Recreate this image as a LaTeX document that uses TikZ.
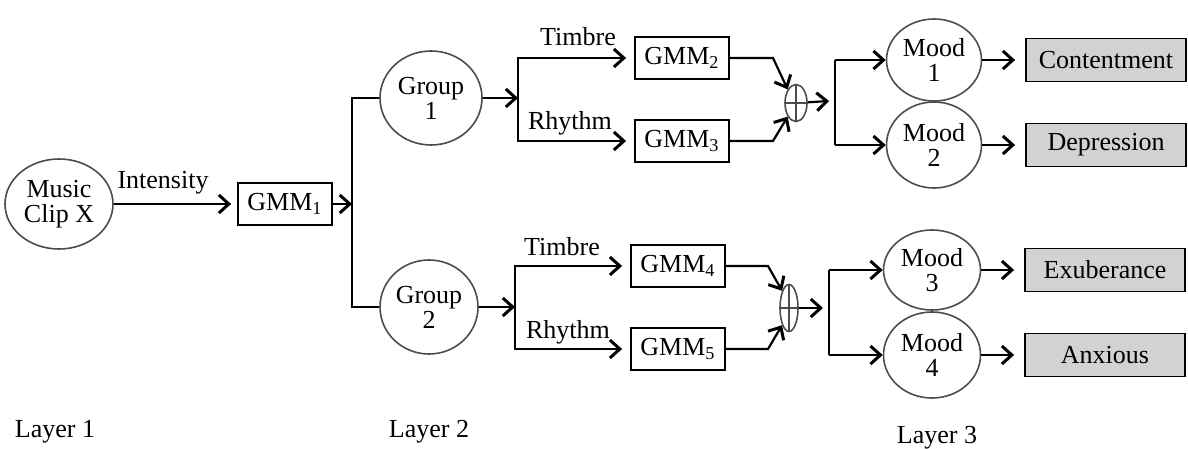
\documentclass[tikz,border=0pt]{standalone}
\usepackage{fontspec}
\setmainfont{Liberation Serif}
\usetikzlibrary{arrows.meta,shapes.geometric}

\tikzset{
  line/.style={line width=1.1pt},
  arr/.style={line,-{Straight Barb[length=5pt,width=9pt,line width=1.5pt]}},
  blob/.style={ellipse,draw=black!70,line width=0.8pt,inner sep=0pt,align=center},
  gmm/.style={draw,line width=0.9pt,inner sep=0pt,minimum height=21pt,minimum width=47pt},
  moodbox/.style={draw,fill=gray!35,line width=0.9pt,inner sep=0pt,minimum height=21.5pt,minimum width=80pt},
  sumnode/.style={ellipse,draw=black!70,line width=0.8pt,inner sep=0pt,
    path picture={\draw[line width=0.8pt] (path picture bounding box.north) -- (path picture bounding box.south)
      (path picture bounding box.west) -- (path picture bounding box.east);}}
}

\begin{document}
\begin{tikzpicture}[x=0.5pt,y=-0.5pt,font=\fontsize{13}{12.5}\selectfont]
\useasboundingbox (0,0) rectangle (1188,449);

% layer 1
\node[blob,minimum width=54pt,minimum height=45pt] (clip) at (59,204) {Music\\Clip X};
\node[gmm] (gmm1) at (285,204) {GMM\textsubscript{1}};
\node (intens) at (163,183) {Intensity};
\coordinate (br1) at (352,204);

% layer 2
\node[blob,minimum width=51pt,minimum height=47pt] (grp1) at (431,98) {Group\\1};
\node[blob,minimum width=49pt,minimum height=47pt] (grp2) at (429,307) {Group\\2};
\coordinate (sp1) at (518,98);
\coordinate (sp2) at (515,307);
\node[gmm] (gmm2) at (682,58) {GMM\textsubscript{2}};
\node[gmm] (gmm3) at (682,141) {GMM\textsubscript{3}};
\node[gmm] (gmm4) at (678,266) {GMM\textsubscript{4}};
\node[gmm] (gmm5) at (678,349) {GMM\textsubscript{5}};
\node (timb1) at (578,37) {Timbre};
\node (rhy1) at (570,123) {Rhythm};
\node (timb2) at (562,247) {Timbre};
\node (rhy2) at (568,332) {Rhythm};
\node[sumnode,minimum width=11pt,minimum height=18.5pt] (sum1) at (796,103) {};
\node[sumnode,minimum width=9pt,minimum height=23.5pt] (sum2) at (789,308) {};
\coordinate (k2) at (773,58);
\coordinate (k3) at (773,141);
\coordinate (k4) at (768,266);
\coordinate (k5) at (768,349);

% layer 3
\coordinate (sp3) at (829,101);
\coordinate (sp4) at (823,308);
\node[blob,minimum width=47.5pt,minimum height=41pt] (mood1) at (934,60) {Mood\\1};
\node[blob,minimum width=47.5pt,minimum height=43pt] (mood2) at (934,145) {Mood\\2};
\node[blob,minimum width=48.5pt,minimum height=40pt] (mood3) at (932,270) {Mood\\3};
\node[blob,minimum width=48.5pt,minimum height=43pt] (mood4) at (932,355) {Mood\\4};
\node[moodbox] (out1) at (1106,60) {Contentment};
\node[moodbox] (out2) at (1106,145) {Depression};
\node[moodbox] (out3) at (1105,270) {Exuberance};
\node[moodbox] (out4) at (1105,355) {Anxious};

\node (lay1) at (55,432) {Layer 1};
\node (lay2) at (429,432) {Layer 2};
\node (lay3) at (937,438) {Layer 3};

% connectors
\draw[arr,shorten >=3pt] (clip) -- (gmm1);
\draw[arr] (gmm1) -- (br1);
\draw[line] (grp1.west) -| (br1) |- (grp2.west);
\draw[arr] (grp1) -- (sp1);
\draw[arr] (grp2) -- (sp2);
\foreach \s/\a/\b in {sp1/gmm2/gmm3,sp2/gmm4/gmm5}{
  \draw[arr,shorten >=4pt] (\s) |- (\a);
  \draw[arr,shorten >=4pt] (\s) |- (\b);
}
\draw[arr] (gmm2) -- (k2) -- (sum1.north west);
\draw[arr] (gmm3) -- (k3) -- (sum1.south west);
\draw[arr] (gmm4) -- (k4) -- (sum2.north west);
\draw[arr] (gmm5) -- (k5) -- (sum2.south west);
\draw[arr] (sum1) -- (sp3);
\draw[arr] (sum2) -- (sp4);
\foreach \s/\a/\b in {sp3/mood1/mood2,sp4/mood3/mood4}{
  \draw[line] (\s) ++(6,0) coordinate (t) (t |- \a.west) -- (t |- \b.west);
  \draw[arr] (t |- \a.west) -- (\a);
  \draw[arr] (t |- \b.west) -- (\b);
}
\foreach \m/\o in {mood1/out1,mood2/out2,mood3/out3,mood4/out4}
  \draw[arr,shorten >=5pt] (\m) -- (\o);
\end{tikzpicture}
\end{document}
